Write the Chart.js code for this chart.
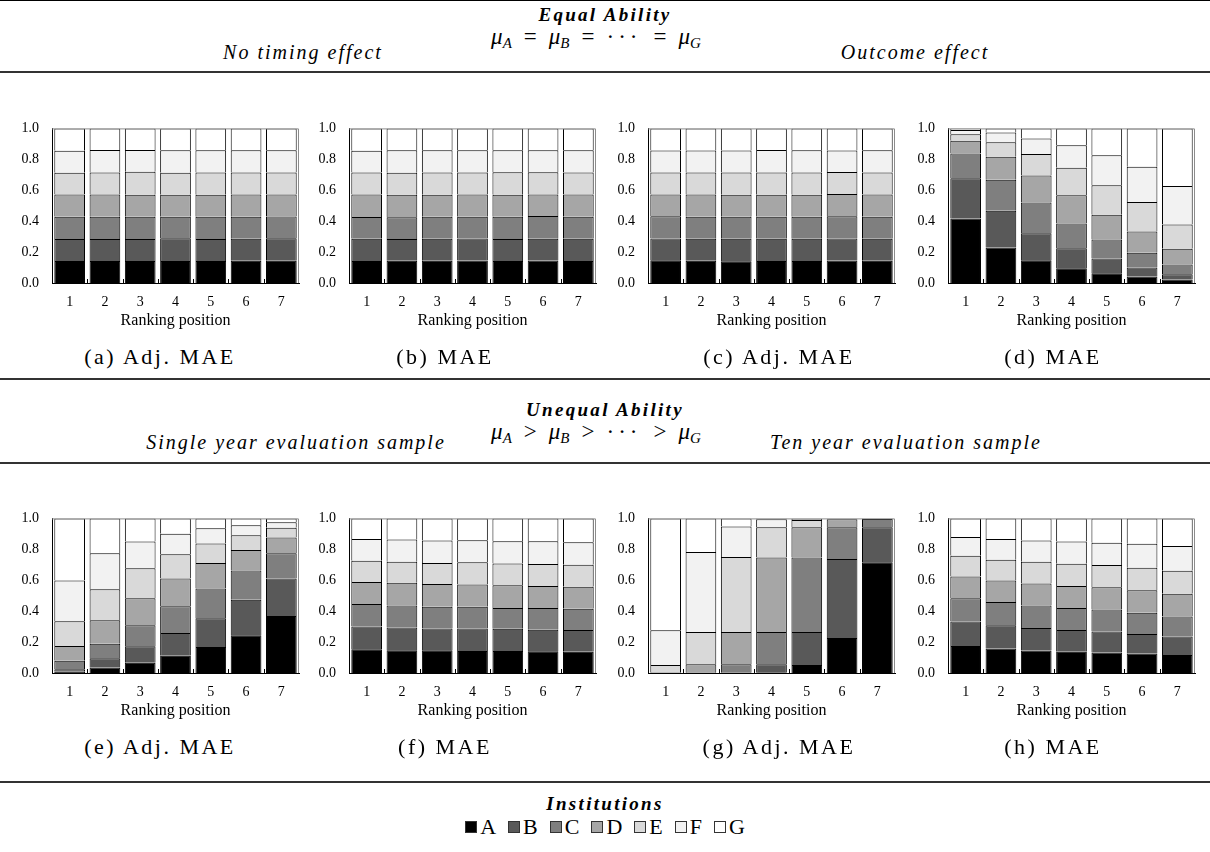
<!DOCTYPE html>
<html>
<head>
<meta charset="utf-8">
<script src="https://cdn.jsdelivr.net/npm/chart.js@4.4.1/dist/chart.umd.min.js"></script>
<style>
  html, body { margin:0; padding:0; background:#fff; }
  body { width:1210px; height:852px; position:relative; overflow:hidden; font-family:'Liberation Serif', serif; color:#000; }
  .t { position:absolute; transform:translate(-50%,-50%); white-space:nowrap; }
  .hdr { font-size:19px; font-weight:bold; font-style:italic; letter-spacing:2.3px; }
  .sub { font-size:20px; font-style:italic; letter-spacing:2px; }
  .math { font-size:23px; }
  .math i { font-style:italic; }
  .math .op { margin:0 12px; }
  .math .dots { letter-spacing:4px; }
  .math sub { font-size:15px; font-style:italic; vertical-align:-4px; line-height:0; }
  .cap { font-size:22px; letter-spacing:2.5px; }
  .rule { position:absolute; left:0; width:1210px; height:2px; background:#333; }
  canvas { position:absolute; }
  .leg { position:absolute; top:814px; left:0; width:1210px; text-align:center; font-size:22px; }
  .leg span.sq { display:inline-block; width:10px; height:10px; border:1px solid #333; margin:0 3px 0 0; vertical-align:1px; }
  .leg span.it { margin:0 6px; }
</style>
</head>
<body>
<script>
// ---------------- DATA ----------------
const positions = ['1','2','3','4','5','6','7'];
const institutions = ['A','B','C','D','E','F','G'];
const yTicks = [0, 0.2, 0.4, 0.6, 0.8, 1.0];

// each array: rows = institutions A..G, columns = ranking positions 1..7 (share of runs)
const panelA_adjMAE_noTiming = [
  [0.143,0.143,0.142,0.143,0.142,0.144,0.144],
  [0.142,0.142,0.143,0.146,0.143,0.143,0.145],
  [0.144,0.143,0.143,0.140,0.143,0.142,0.141],
  [0.143,0.145,0.143,0.142,0.143,0.143,0.143],
  [0.141,0.142,0.148,0.142,0.143,0.142,0.142],
  [0.143,0.146,0.141,0.145,0.145,0.144,0.143],
  [0.144,0.139,0.140,0.142,0.141,0.142,0.142]
];
const panelB_MAE_noTiming = [
  [0.142,0.144,0.144,0.145,0.143,0.145,0.143],
  [0.145,0.140,0.142,0.143,0.142,0.142,0.144],
  [0.140,0.142,0.143,0.141,0.144,0.146,0.141],
  [0.145,0.145,0.142,0.144,0.142,0.140,0.144],
  [0.143,0.142,0.144,0.142,0.146,0.143,0.143],
  [0.141,0.146,0.143,0.143,0.141,0.143,0.143],
  [0.144,0.141,0.142,0.142,0.142,0.141,0.142]
];
const panelC_adjMAE_outcome = [
  [0.147,0.144,0.141,0.143,0.143,0.146,0.144],
  [0.141,0.143,0.145,0.143,0.143,0.142,0.143],
  [0.143,0.142,0.143,0.142,0.142,0.143,0.142],
  [0.141,0.143,0.142,0.143,0.143,0.144,0.143],
  [0.142,0.143,0.144,0.144,0.144,0.143,0.143],
  [0.143,0.142,0.142,0.145,0.144,0.139,0.143],
  [0.143,0.143,0.143,0.140,0.141,0.143,0.142]
];
const panelD_MAE_outcome = [
  [0.417,0.230,0.147,0.095,0.063,0.042,0.023],
  [0.261,0.238,0.175,0.130,0.095,0.059,0.034],
  [0.160,0.200,0.198,0.160,0.124,0.095,0.063],
  [0.082,0.148,0.175,0.183,0.160,0.137,0.101],
  [0.042,0.095,0.139,0.177,0.190,0.191,0.158],
  [0.028,0.063,0.101,0.146,0.195,0.228,0.248],
  [0.010,0.026,0.065,0.109,0.173,0.248,0.373]
];
const panelE_adjMAE_single = [
  [0.008,0.036,0.067,0.112,0.168,0.244,0.368],
  [0.017,0.059,0.106,0.147,0.186,0.230,0.243],
  [0.055,0.095,0.136,0.173,0.193,0.189,0.164],
  [0.095,0.151,0.175,0.179,0.165,0.133,0.101],
  [0.160,0.200,0.194,0.157,0.126,0.095,0.063],
  [0.263,0.234,0.173,0.133,0.099,0.065,0.036],
  [0.402,0.225,0.149,0.099,0.063,0.044,0.025]
];
const panelF_MAE_single = [
  [0.154,0.147,0.147,0.143,0.143,0.141,0.137],
  [0.147,0.148,0.141,0.145,0.143,0.139,0.141],
  [0.145,0.141,0.141,0.141,0.135,0.141,0.137],
  [0.143,0.147,0.146,0.144,0.147,0.141,0.143],
  [0.137,0.137,0.137,0.143,0.141,0.143,0.143],
  [0.141,0.143,0.145,0.143,0.144,0.148,0.145],
  [0.133,0.137,0.143,0.141,0.147,0.147,0.154]
];
const panelG_adjMAE_tenYear = [
  [0.000,0.000,0.000,0.005,0.052,0.227,0.716],
  [0.000,0.000,0.005,0.052,0.213,0.510,0.227],
  [0.000,0.005,0.052,0.208,0.482,0.206,0.053],
  [0.005,0.052,0.208,0.482,0.196,0.051,0.003],
  [0.047,0.208,0.485,0.196,0.047,0.004,0.001],
  [0.225,0.518,0.197,0.051,0.007,0.001,0.000],
  [0.722,0.217,0.053,0.006,0.003,0.001,0.000]
];
const panelH_MAE_tenYear = [
  [0.175,0.158,0.145,0.137,0.133,0.126,0.116],
  [0.158,0.151,0.146,0.141,0.136,0.127,0.120],
  [0.151,0.150,0.145,0.143,0.142,0.136,0.130],
  [0.141,0.139,0.143,0.141,0.143,0.146,0.146],
  [0.133,0.135,0.141,0.145,0.145,0.145,0.149],
  [0.122,0.134,0.137,0.144,0.143,0.156,0.160],
  [0.120,0.133,0.143,0.149,0.158,0.164,0.179]
];

const grays = ['#000000','#595959','#7f7f7f','#a6a6a6','#d9d9d9','#f2f2f2','#ffffff'];

// ---------------- LAYOUT ----------------
const panels = [
  {data: panelA_adjMAE_noTiming, left: 52,  top: 125},
  {data: panelB_MAE_noTiming,    left: 349, top: 125},
  {data: panelC_adjMAE_outcome,  left: 648, top: 125},
  {data: panelD_MAE_outcome,     left: 948, top: 125},
  {data: panelE_adjMAE_single,   left: 52,  top: 515},
  {data: panelF_MAE_single,      left: 349, top: 515},
  {data: panelG_adjMAE_tenYear,  left: 648, top: 515},
  {data: panelH_MAE_tenYear,     left: 948, top: 515}
];
const PW = 247, PH = 158, AXW = 50, AXH = 50, PADT = 10, PADR = 6;

const framePlugin = {
  id: 'frame',
  afterDatasetsDraw(chart) {
    const {ctx, chartArea: a} = chart;
    const xs = chart.scales.x;
    ctx.save();
    ctx.lineWidth = 1;
    ctx.strokeStyle = '#8c8c8c';
    ctx.beginPath();
    ctx.moveTo(a.left, a.top + 0.5);
    ctx.lineTo(a.right - 0.5, a.top + 0.5);
    ctx.lineTo(a.right - 0.5, a.bottom);
    ctx.stroke();
    ctx.strokeStyle = '#000';
    ctx.beginPath();
    for (let i = 1; i < positions.length; i++) {
      const px = Math.round(xs.getPixelForValue(i - 0.5)) + 0.5;
      ctx.moveTo(px, a.bottom);
      ctx.lineTo(px, a.bottom - 4);
    }
    ctx.stroke();
    ctx.restore();
  }
};

const tickFont = {family: 'Liberation Serif', size: 14};

panels.forEach(p => {
  const c = document.createElement('canvas');
  const w = AXW + PW + PADR, h = PADT + PH + AXH;
  c.width = w; c.height = h;
  c.style.width = w + 'px'; c.style.height = h + 'px';
  c.style.left = (p.left - AXW) + 'px';
  c.style.top = (p.top - PADT) + 'px';
  document.body.appendChild(c);
  new Chart(c.getContext('2d'), {
    type: 'bar',
    data: {
      labels: positions,
      datasets: institutions.map((name, i) => ({
        label: name,
        data: p.data[i],
        backgroundColor: grays[i],
        borderColor: '#000',
        borderWidth: 1,
        barPercentage: 0.87,
        categoryPercentage: 1.0
      }))
    },
    options: {
      responsive: false,
      animation: false,
      devicePixelRatio: 1,
      layout: {padding: {top: 2, right: PADR, left: 0, bottom: 0}},
      plugins: {legend: {display: false}, tooltip: {enabled: false}},
      scales: {
        x: {
          stacked: true,
          grid: {display: false},
          border: {display: true, color: '#000', width: 1},
          ticks: {font: tickFont, color: '#000', padding: 3, maxRotation: 0},
          title: {display: true, text: 'Ranking position', color: '#000',
                  font: {family: 'Liberation Serif', size: 16}, padding: {top: 0, bottom: 3}},
          afterFit(s) { s.height = AXH; }
        },
        y: {
          stacked: true,
          min: 0, max: 1,
          afterBuildTicks(s) { s.ticks = yTicks.map(v => ({value: v})); },
          grid: {display: false},
          border: {display: true, color: '#000', width: 1},
          ticks: {font: tickFont, color: '#000', padding: 5, callback: v => Number(v).toFixed(1)},
          afterFit(s) { s.width = AXW; }
        }
      }
    },
    plugins: [framePlugin]
  });
});

// ---------------- TEXT ----------------
function addText(html, x, y, cls) {
  const d = document.createElement('div');
  d.className = 't ' + cls;
  d.innerHTML = html;
  d.style.left = x + 'px';
  d.style.top = y + 'px';
  document.body.appendChild(d);
}
function addRule(y, h, color) {
  const d = document.createElement('div');
  d.className = 'rule';
  d.style.top = y + 'px';
  if (h) d.style.height = h + 'px';
  if (color) d.style.background = color;
  document.body.appendChild(d);
}
addRule(0, 1, '#000');
addRule(71);
addRule(378);
addRule(462);
addRule(781);

const mu = s => '<i>μ</i><sub>' + s + '</sub>';
const op = s => '<span class="op">' + s + '</span>';
const dots = '<span class="dots">···</span>';
addText('Equal Ability', 605, 15, 'hdr');
addText(mu('A') + op('=') + mu('B') + op('=') + dots + op('=') + mu('G'), 596, 37, 'math');
addText('No timing effect', 303, 52, 'sub');
addText('Outcome effect', 915, 52, 'sub');

addText('Unequal Ability', 605, 410, 'hdr');
addText(mu('A') + op('&gt;') + mu('B') + op('&gt;') + dots + op('&gt;') + mu('G'), 596, 432, 'math');
addText('Single year evaluation sample', 296, 442, 'sub');
addText('Ten year evaluation sample', 906, 442, 'sub');

const captionsTop = ['(a) Adj. MAE','(b) MAE','(c) Adj. MAE','(d) MAE'];
const captionsBottom = ['(e) Adj. MAE','(f) MAE','(g) Adj. MAE','(h) MAE'];
const capX = [160, 445, 779, 1053];
captionsTop.forEach((t, i) => addText(t, capX[i], 357, 'cap'));
captionsBottom.forEach((t, i) => addText(t, capX[i], 747, 'cap'));

addText('Institutions', 605, 804, 'hdr');
const leg = document.createElement('div');
leg.className = 'leg';
leg.innerHTML = institutions.map((n, i) =>
  '<span class="it"><span class="sq" style="background:' + grays[i] + '"></span>' + n + '</span>').join('');
document.body.appendChild(leg);
</script>
</body>
</html>
